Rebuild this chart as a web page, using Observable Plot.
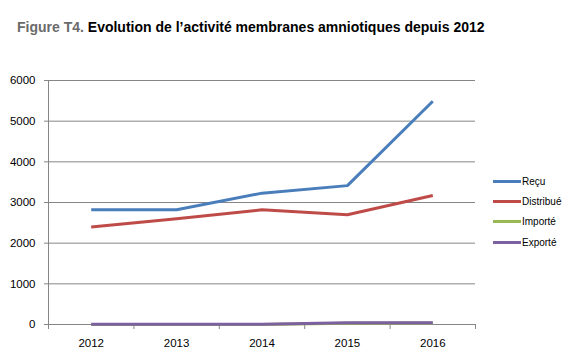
<!DOCTYPE html>
<html><head><meta charset="utf-8">
<script src="https://cdn.jsdelivr.net/npm/d3@7"></script>
<script src="https://cdn.jsdelivr.net/npm/@observablehq/plot@0.6"></script>
<style>
body{margin:0;background:#fff;font-family:"Liberation Sans",Arial,sans-serif;}
#wrap{position:relative;width:575px;height:358px;}
#title{position:absolute;left:17px;top:19px;font-weight:bold;font-size:14px;color:#000;white-space:nowrap;}
#title span{color:#6b6b6b;}
#chart{position:absolute;left:0;top:60px;}
#legend{position:absolute;left:493px;top:171px;font-size:10px;color:#000;}
.li{height:20.3px;display:flex;align-items:center;}
.sw{width:28px;height:3px;margin-right:1px;}
</style></head>
<body><div id="wrap">
<div id="title"><span>Figure T4.</span> Evolution de l’activité membranes amniotiques depuis 2012</div>
<div id="chart"></div>
<div id="legend"></div>
</div>
<script>
const years = [2012, 2013, 2014, 2015, 2016];
const seriesNames = ["Reçu", "Distribué", "Importé", "Exporté"];
const recu = [2820, 2820, 3230, 3415, 5490];
const distribue = [2400, 2600, 2820, 2700, 3170];
const importe = [0, 0, 0, 30, 35];
const exporte = [5, 5, 5, 40, 45];
const yTicks = [0, 1000, 2000, 3000, 4000, 5000, 6000];
const colors = ["#4a7ebb", "#be4b48", "#98b954", "#7d60a0"];

const valuesBySeries = [recu, distribue, importe, exporte];
const data = [];
seriesNames.forEach((s, i) => years.forEach((y, j) => data.push({series: s, year: y, value: valuesBySeries[i][j]})));
const boundaries = [years[0] - 0.5, ...years.map(y => y + 0.5)];

const chart = Plot.plot({
  width: 575,
  height: 298,
  marginTop: 20,
  marginBottom: 34,
  marginLeft: 48,
  marginRight: 100,
  style: {fontFamily: "'Liberation Sans', Arial, sans-serif", fontSize: "11.5px", color: "#000"},
  x: {domain: [years[0] - 0.5, years[years.length - 1] + 0.5]},
  y: {domain: [0, 6000]},
  color: {domain: seriesNames, range: colors},
  marks: [
    Plot.ruleY(yTicks, {stroke: "#868686", strokeWidth: 1}),
    Plot.ruleX([boundaries[0]], {stroke: "#868686", strokeWidth: 1}),
    Plot.axisY({ticks: yTicks, tickSize: 4, tickPadding: 9, tickFormat: d => String(d), label: null, stroke: "#868686", fill: "#000"}),
    Plot.axisX({ticks: boundaries, tickSize: 5, tickFormat: () => "", label: null, stroke: "#868686"}),
    Plot.axisX({ticks: years, tickSize: 0, tickPadding: 14, tickFormat: d => String(d), label: null, fill: "#000"}),
    Plot.line(data, {x: "year", y: "value", z: "series", stroke: "series", strokeWidth: 3, strokeLinejoin: "round", strokeLinecap: "butt"})
  ]
});
document.getElementById("chart").appendChild(chart);

const leg = document.getElementById("legend");
seriesNames.forEach((s, i) => {
  const row = document.createElement("div");
  row.className = "li";
  row.innerHTML = `<div class="sw" style="background:${colors[i]}"></div><div>${s}</div>`;
  leg.appendChild(row);
});
</script>
</body></html>
